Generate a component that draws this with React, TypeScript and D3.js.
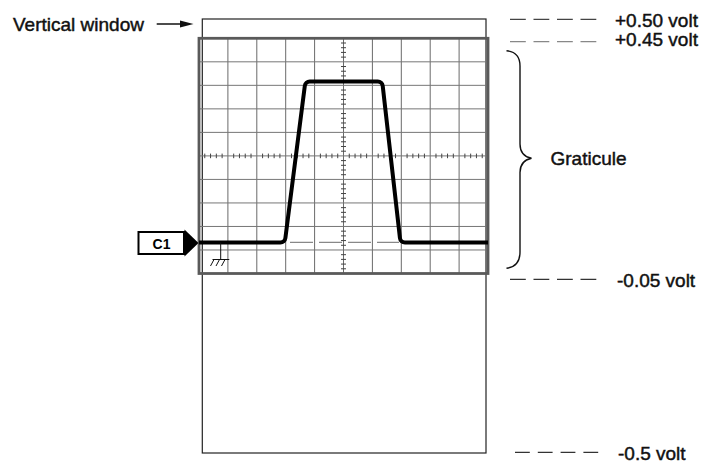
import React from "react";
import * as d3 from "d3";

// ---- Data ----
const xDivisions = [0, 1, 2, 3, 4, 5, 6, 7, 8, 9, 10];
const voltLines = [-0.05, 0.0, 0.05, 0.1, 0.15, 0.2, 0.25, 0.3, 0.35, 0.4, 0.45];
const traceDiv = [0, 2.97, 3.68, 6.34, 6.97, 10];
const traceVolt = [0.016, 0.016, 0.358, 0.358, 0.016, 0.016];
const windowLabels = ["+0.50 volt", "+0.45 volt", "-0.05 volt", "-0.5 volt"];
const calloutLabels = ["Vertical window", "Graticule", "C1"];

const W = 703;
const H = 462;
const FONT = "'Liberation Sans', Arial, Helvetica, sans-serif";

export default function App() {
  const x = d3.scaleLinear().domain([0, 10]).range([199, 488]);
  const y = d3.scaleLinear().domain([-0.05, 0.45]).range([273.5, 38.3]);

  const minorX = d3.range(0, 10.0001, 0.2).filter((v) => Math.abs(v - Math.round(v)) > 0.01);
  const minorY = d3.range(-0.05, 0.45001, 0.01).filter((v) => {
    const k = (v + 0.05) / 0.05;
    return Math.abs(k - Math.round(k)) > 0.01;
  });

  // trace path with rounded corners
  const pts = traceDiv.map((d, i) => [x(d), y(traceVolt[i])] as [number, number]);
  const p = d3.path();
  p.moveTo(pts[0][0], pts[0][1]);
  for (let i = 1; i < pts.length - 1; i++) {
    p.arcTo(pts[i][0], pts[i][1], pts[i + 1][0], pts[i + 1][1], 5);
  }
  p.lineTo(pts[pts.length - 1][0], pts[pts.length - 1][1]);

  const cx = x(5);
  const cy = y(0.2);
  const baseY = y(traceVolt[0]);

  const winTop = 19;
  const winBottom = 453;
  const winLeft = 202.3;
  const winRight = 486;

  const dashRows = [
    { y: 19.3, x0: 510, color: "#444", ty: 27 },
    { y: 41.7, x0: 510, color: "#888", ty: 46.3 },
    { y: 279.3, x0: 510, color: "#333", ty: 287 },
    { y: 452.3, x0: 515, color: "#333", ty: 459.5 },
  ];
  const textX = [615, 615, 617, 618];
  const textStroke = { stroke: "#111", strokeWidth: 0.45 };

  return (
    <svg
      width={W}
      height={H}
      style={{ position: "absolute", left: 0, top: 0, background: "#fff" }}
      fontFamily={FONT}
    >
      <rect x={0} y={0} width={W} height={H} fill="#fff" />

      {/* vertical window */}
      <rect
        x={winLeft}
        y={winTop}
        width={winRight - winLeft}
        height={winBottom - winTop}
        fill="none"
        stroke="#222"
        strokeWidth={1.2}
      />

      {/* grid */}
      {xDivisions.slice(1, -1).map((d) => (
        <line key={"vx" + d} x1={x(d)} x2={x(d)} y1={y(0.45)} y2={y(-0.05)} stroke="#6a6a6a" strokeWidth={1} />
      ))}
      {voltLines.slice(1, -1).map((v) => (
        <line key={"hy" + v} x1={x(0)} x2={x(10)} y1={y(v)} y2={y(v)} stroke="#767676" strokeWidth={1} />
      ))}
      {/* minor ticks on center axes */}
      {minorX.map((d) => (
        <line key={"mx" + d} x1={x(d)} x2={x(d)} y1={cy - 2.3} y2={cy + 2.3} stroke="#444" strokeWidth={1} />
      ))}
      {minorY.map((v) => (
        <line key={"my" + v} x1={cx - 2.5} x2={cx + 2.5} y1={y(v)} y2={y(v)} stroke="#444" strokeWidth={1} />
      ))}

      {/* graticule border */}
      <rect
        x={x(0)}
        y={y(0.45)}
        width={x(10) - x(0)}
        height={y(-0.05) - y(0.45)}
        fill="none"
        stroke="#5a5a5a"
        strokeWidth={2.8}
      />

      {/* ground reference dashed line */}
      <line
        x1={290}
        x2={399}
        y1={baseY}
        y2={baseY}
        stroke="#888"
        strokeWidth={1.3}
        strokeDasharray="23,6"
      />

      {/* trace */}
      <path d={p.toString()} fill="none" stroke="#000" strokeWidth={4} strokeLinejoin="round" strokeLinecap="butt" />

      {/* ground symbol */}
      <g stroke="#111" strokeWidth={1}>
        <line x1={220.7} x2={220.7} y1={baseY} y2={259.5} />
        <line x1={212.5} x2={229.3} y1={259.5} y2={259.5} />
        <line x1={214} x2={210.5} y1={259.5} y2={266} />
        <line x1={219.5} x2={216} y1={259.5} y2={266} />
        <line x1={225} x2={221.5} y1={259.5} y2={266} />
      </g>

      {/* C1 marker */}
      <rect x={138.5} y={232} width={45.5} height={22} fill="#fff" stroke="#000" strokeWidth={2} />
      <text x={161.5} y={248.5} textAnchor="middle" fontSize={14} fontWeight="bold" fill="#000">
        {calloutLabels[2]}
      </text>
      <path d={`M184.5,229.5 L184.5,256.5 L198.5,243 Z`} fill="#000" />

      {/* Vertical window label + arrow */}
      <text x={13} y={30.5} fontSize={19} fill="#111" {...textStroke}>
        {calloutLabels[0]}
      </text>
      <line x1={156.7} x2={184} y1={24} y2={24} stroke="#111" strokeWidth={1.5} />
      <path d="M180,20.6 L193.5,24 L180,27.4 Z" fill="#111" />

      {/* brace */}
      <path
        d="M506.5,50.7 Q520,52 520,66 L520,144 Q520,156 531.5,158.3 Q520,160.6 520,172.6 L520,252 Q520,266.5 506.5,268.3"
        fill="none"
        stroke="#111"
        strokeWidth={1.4}
      />
      <text x={550.5} y={165} fontSize={19} fill="#111" {...textStroke}>
        {calloutLabels[1]}
      </text>

      {/* right-side volt labels */}
      {dashRows.map((r, i) => (
        <g key={"dr" + i}>
          <line
            x1={r.x0}
            x2={598.5}
            y1={r.y}
            y2={r.y}
            stroke={r.color}
            strokeWidth={1.2}
            strokeDasharray={i === 3 ? "14.8,8" : "15.8,7.7"}
          />
          <text x={textX[i]} y={r.ty} fontSize={19} fill="#111" {...textStroke}>
            {windowLabels[i]}
          </text>
        </g>
      ))}
    </svg>
  );
}
